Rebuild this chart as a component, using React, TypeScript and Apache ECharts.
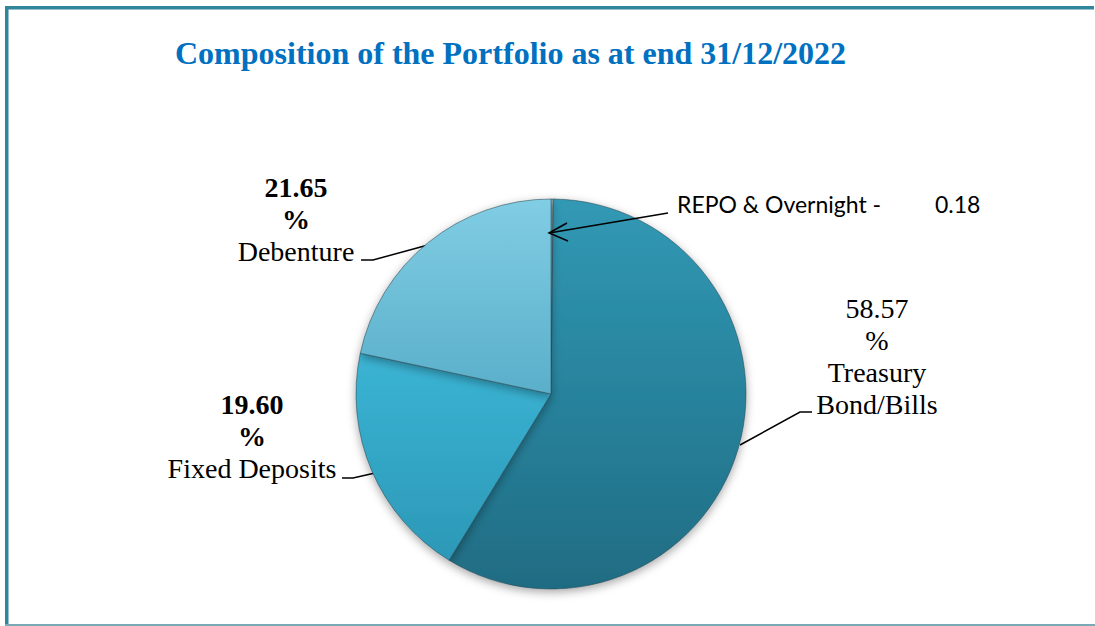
import React, { useEffect, useRef } from "react";
import * as echarts from "echarts";

const titleText = "Composition of the Portfolio as at end 31/12/2022";
const categories = ["REPO & Overnight", "Treasury Bond/Bills", "Fixed Deposits", "Debenture"];
const shares = [0.18, 58.57, 19.6, 21.65];

const topColors = ["#c9d3d6", "#3199b5", "#3bb4d4", "#80cde4"];
const bottomColors = ["#a9b6ba", "#1f6c83", "#2c98b7", "#5aafca"];

// label layout (anchor x, y, align) and leader line points per slice
const labelAnchors = [
  { x: 677, y: 204, align: "left", line: [[549, 233], [668, 213]] },
  { x: 877, y: 356, align: "center", line: [[740, 445], [800, 412], [812, 412]] },
  { x: 252, y: 436, align: "center", line: [[375, 473], [353, 478], [342, 478]] },
  { x: 296, y: 219, align: "center", line: [[428, 245], [373, 260], [361, 260]] },
];

export default function App() {
  const ref = useRef<HTMLDivElement>(null);

  useEffect(() => {
    if (!ref.current) return;
    const chart = echarts.init(ref.current, undefined, { renderer: "svg" });

    const data = categories.map((name, i) => ({
      name,
      value: shares[i],
      itemStyle: {
        color: new echarts.graphic.LinearGradient(0, 0, 0, 1, [
          { offset: 0, color: topColors[i] },
          { offset: 1, color: bottomColors[i] },
        ]),
      },
      labelLine: { show: i !== 0 },
    }));

    const formatter = (p: any) => {
      const v = Number(p.value).toFixed(2);
      const i = p.dataIndex;
      if (i === 0) return `{a|${p.name} -}{b|${v}}`;
      if (i === 1) {
        const parts = String(p.name).split(" ");
        return `{n|${v}}\n{n|%}\n{n|${parts[0]}}\n{n|${parts.slice(1).join(" ")}}`;
      }
      return `{v|${v}}\n{v|%}\n{n|${p.name}}`;
    };

    const repo = labelAnchors[0].line;

    chart.setOption({
      animation: false,
      backgroundColor: "#ffffff",
      title: {
        text: titleText,
        left: 170,
        top: 32,
        textStyle: {
          fontFamily: "Liberation Serif",
          fontWeight: "bold",
          fontSize: 32,
          color: "#0070c0",
        },
      },
      graphic: [
        { type: "rect", shape: { x: 5, y: 6, width: 3.5, height: 620 }, style: { fill: "#31869b" } },
        { type: "rect", shape: { x: 5, y: 6, width: 1089, height: 3.5 }, style: { fill: "#31869b" } },
        { type: "rect", shape: { x: 5, y: 624, width: 1090, height: 2 }, style: { fill: "#7aa9b6" } },
        {
          type: "line",
          shape: { x1: repo[0][0], y1: repo[0][1], x2: repo[1][0], y2: repo[1][1] },
          style: { stroke: "#000", lineWidth: 1.5 },
          z: 10,
        },
        {
          type: "polyline",
          shape: { points: [[567, 223], [549, 233], [568, 241]] },
          style: { stroke: "#000", lineWidth: 1.5, fill: null },
          z: 10,
        },
      ],
      series: [
        {
          type: "pie",
          center: [551, 394],
          radius: 195,
          startAngle: 90,
          clockwise: true,
          avoidLabelOverlap: false,
          data,
          itemStyle: {
            borderColor: "rgba(40,70,80,0.55)",
            borderWidth: 1,
            shadowBlur: 10,
            shadowColor: "rgba(0,0,0,0.35)",
            shadowOffsetY: 3,
          },
          label: {
            show: true,
            position: "outside",
            formatter,
            color: "#000",
            rich: {
              v: {
                fontFamily: "Liberation Serif",
                fontWeight: "bold",
                fontSize: 28,
                lineHeight: 32,
                color: "#000",
                align: "center",
              },
              n: {
                fontFamily: "Liberation Serif",
                fontSize: 28,
                lineHeight: 32,
                color: "#000",
                align: "center",
              },
              a: {
                fontFamily: "Lato",
                fontSize: 23,
                color: "#000",
                width: 258,
              },
              b: {
                fontFamily: "Lato",
                fontSize: 23,
                color: "#000",
              },
            },
          },
          labelLine: {
            show: true,
            lineStyle: { color: "#000", width: 1.5 },
          },
          labelLayout: (params: any) => {
            const a = labelAnchors[params.dataIndex];
            return {
              x: a.x,
              y: a.y,
              align: a.align,
              verticalAlign: "middle",
              labelLinePoints: a.line,
            };
          },
          emphasis: { disabled: true },
        },
      ],
    });

    return () => chart.dispose();
  }, []);

  return (
    <div
      ref={ref}
      style={{ position: "absolute", left: 0, top: 0, width: 1095, height: 626 }}
    />
  );
}
